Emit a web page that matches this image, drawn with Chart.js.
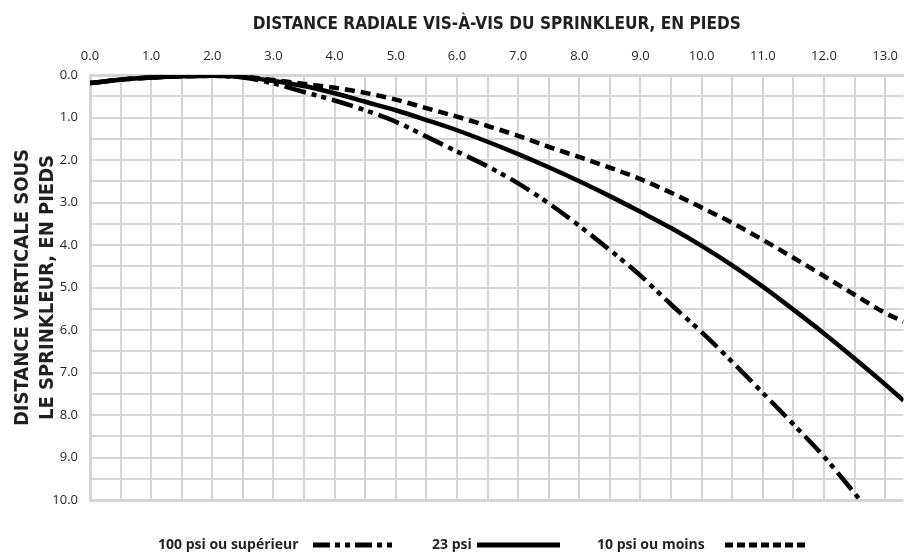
<!DOCTYPE html>
<html><head><meta charset="utf-8">
<script src="https://cdn.jsdelivr.net/npm/chart.js@4.4.1/dist/chart.umd.min.js"></script>
<style>html,body{margin:0;padding:0;background:#fff;overflow:hidden}#wrap{position:relative;width:909px;height:554px}</style>
</head><body><div id="wrap"><canvas id="c" width="909" height="554"></canvas></div>
<script>
// Radial distance (ft) and vertical drop (ft)
const xValues = [0,0.5,1,1.5,2,2.5,3,3.5,4,4.5,5,5.5,6,6.5,7,7.5,8,8.5,9,9.5,10,10.5,11,11.5,12,12.5,13,13.3];
const drop23psi = [0.19,0.11,0.06,0.03,0.02,0.05,0.14,0.26,0.43,0.63,0.83,1.06,1.3,1.57,1.86,2.17,2.5,2.85,3.22,3.6,4.02,4.48,4.98,5.52,6.08,6.67,7.28,7.66];
const drop10psi = [0.19,0.11,0.06,0.03,0.02,0.04,0.12,0.21,0.3,0.42,0.58,0.78,0.98,1.2,1.43,1.69,1.93,2.18,2.45,2.77,3.12,3.48,3.88,4.3,4.73,5.17,5.6,5.8];
const xValues100 = [0,0.5,1,1.5,2,2.5,3,3.5,4,4.5,5,5.5,6,6.5,7,7.5,8,8.5,9,9.5,10,10.5,11,11.5,12,12.58];
const drop100psi = [0.19,0.11,0.06,0.03,0.02,0.06,0.2,0.4,0.6,0.83,1.1,1.45,1.8,2.15,2.55,3.02,3.55,4.12,4.72,5.4,6.05,6.75,7.48,8.22,8.98,9.98];
const seriesLabels = ['100 psi ou supérieur','23 psi','10 psi ou moins'];
const xTitle = 'DISTANCE RADIALE VIS-À-VIS DU SPRINKLEUR, EN PIEDS';
const yTitle = ['DISTANCE VERTICALE SOUS','LE SPRINKLEUR, EN PIEDS'];

const toPts = (xs, ys) => xs.map((x, i) => ({x, y: ys[i]}));
const dashes = [[22,6,5,5,5,6],[],[10,6]];
const legendDashes = [[17,5,5,5,5,5],[],[8,4]];
const legendLayout = [
  {textX:158, from:313, to:397},
  {textX:432, from:477, to:560},
  {textX:597, from:725, to:805}
];
const TEXT = '#231f20';
const GRID = '#d4d4d4';
const titleFont = "'DejaVu Sans Condensed','Roboto',sans-serif";

const legendPlugin = {
  id: 'customLegend',
  afterDraw(chart) {
    const ctx = chart.ctx;
    ctx.save();
    const y = 545;
    chart.data.datasets.forEach((ds, i) => {
      const L = legendLayout[i];
      ctx.font = "bold 14px 'Open Sans', sans-serif";
      ctx.fillStyle = TEXT;
      ctx.textBaseline = 'middle';
      ctx.textAlign = 'left';
      ctx.fillText(ds.label, L.textX, y);
      ctx.beginPath();
      ctx.setLineDash(legendDashes[i]);
      ctx.lineWidth = 5;
      ctx.strokeStyle = ds.borderColor;
      ctx.moveTo(L.from, y);
      ctx.lineTo(L.to, y);
      ctx.stroke();
    });
    ctx.restore();
  }
};

const common = {borderColor:'#000', borderWidth:4.5, pointRadius:0, fill:false, cubicInterpolationMode:'monotone', borderCapStyle:'butt'};

new Chart(document.getElementById('c'), {
  type: 'line',
  data: {
    datasets: [
      {...common, label: seriesLabels[0], data: toPts(xValues100, drop100psi), borderDash: dashes[0]},
      {...common, label: seriesLabels[1], data: toPts(xValues, drop23psi), borderDash: dashes[1]},
      {...common, label: seriesLabels[2], data: toPts(xValues, drop10psi), borderDash: dashes[2]}
    ]
  },
  options: {
    responsive: false,
    animation: false,
    devicePixelRatio: 1,
    layout: {padding: {left: 0, right: 0, top: 0, bottom: 54}},
    plugins: {legend: {display: false}, tooltip: {enabled: false}},
    scales: {
      x: {
        type: 'linear', position: 'top', min: 0, max: 13.3,
        afterFit(s) { s.height = 75; },
        grid: {color: GRID, lineWidth: 2, drawTicks: false},
        border: {display: true, color: GRID, width: 3},
        ticks: {
          stepSize: 0.5, includeBounds: false, autoSkip: false, maxRotation: 0, padding: 11,
          color: TEXT, font: {family: "'Open Sans', sans-serif", size: 13},
          callback: v => Math.abs(v - Math.round(v)) < 1e-6 ? v.toFixed(1) : ''
        },
        title: {display: true, text: xTitle, color: TEXT, font: {family: titleFont, size: 17.1, weight: 'bold'}, padding: {top: 14, bottom: 0}}
      },
      y: {
        type: 'linear', position: 'left', min: 0, max: 10, reverse: true,
        afterFit(s) { s.width = 90; },
        grid: {color: GRID, lineWidth: c => (c.tick && c.tick.value === 10) ? 3 : 2, drawTicks: false},
        border: {display: true, color: GRID, width: 3},
        ticks: {
          stepSize: 0.5, autoSkip: false, padding: 12,
          color: TEXT, font: {family: "'Open Sans', sans-serif", size: 13},
          callback: v => Math.abs(v - Math.round(v)) < 1e-6 ? v.toFixed(1) : ''
        },
        title: {display: true, text: yTitle, color: TEXT, font: {family: titleFont, size: 20, weight: 'bold', lineHeight: 1.25}, padding: {top: 10.5, bottom: 0}}
      }
    }
  },
  plugins: [legendPlugin]
});
</script>
</body></html>
